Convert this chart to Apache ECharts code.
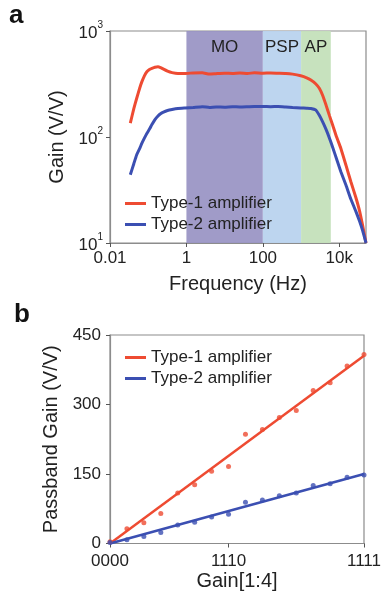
<!DOCTYPE html>
<html><head><meta charset="utf-8">
<script src="https://cdn.jsdelivr.net/npm/echarts@6/dist/echarts.min.js"></script>
<style>html,body{margin:0;padding:0;background:#fff}#c{width:387px;height:602px}</style>
</head><body><div id="c"></div><script>
// ---------- Panel a data ----------
const freqHz = [0.034,0.042,0.05,0.06,0.068,0.08,0.092,0.11,0.125,0.15,0.18,0.21,0.25,0.32,0.42,0.6,0.93,1.5,2.6,4,6,10,16,25,40,60,100,160,250,400,600,980,1400,1800,2400,3000,3700,4500,5500,6700,8500,11000,15000,20000,27000,34000,41000,50000];
const type1Gain = [135,185,232,290,331,380,413,435,444,455,460,452,437,418,405,398,398,402,404,392,396,400,398,402,398,403,400,402,400,398,392,378,362,345,318,288,245,200,160,130,100,78,54,38,27,20,14.5,10];
const type2Gain = [44,56,68,78,87,98,108,120,131,146,158,166,172,178,182,186,188,190,193,190,192,191,193,192,193,194,194,193,194,192,190,188,187,186,180,160,138,118,98,80,62,47,35,26,20,16,13,10];
const bandNames = ['MO','PSP','AP'];
const bandFrom = [1,100,1000];
const bandTo = [100,1000,6000];
const xTicksA = [0.01,1,100,10000];
const xTickLabelsA = ['0.01','1','100','10k'];
const yTicksA = [10,100,1000];

// ---------- Panel b data ----------
const gainCodes = ['0000','1000','0100','1100','0010','1010','0110','1110','0001','1001','0101','1101','0011','1011','0111','1111'];
const shownCodes = ['0000','1110','1111'];
const type1Passband = [4,32,45,65,109,127,156,166,236,246,272,287,330,347,383,408];
const type2Passband = [2,8,15,24,40,46,57,63,89,94,103,109,125,129,143,148];
const type1FitEnds = [0,405];
const type2FitEnds = [0,150];

// ---------- styles ----------
const FONT = '"Liberation Sans", Arial, sans-serif';
const RED = '#ee4b32';
const BLUE = '#3b4fb2';
const TXT = '#222';
const AXIS = '#8c8c8c';
const bandColors = ['rgba(150,144,194,0.9)','rgba(185,211,238,0.95)','rgba(196,224,186,0.95)'];

const chart = echarts.init(document.getElementById('c'));

const markAreaData = bandNames.map((n,i)=>[
  {name:n, xAxis:bandFrom[i], itemStyle:{color:bandColors[i]}},
  {xAxis:bandTo[i]}
]);

const lastCode = gainCodes[gainCodes.length-1];

const option = {
  animation:false,
  backgroundColor:'#fff',
  textStyle:{fontFamily:FONT},
  grid:[
    {left:110, top:31, width:256, height:212, show:true, borderColor:AXIS, borderWidth:1.2, backgroundColor:'transparent'},
    {left:110, top:335, width:254, height:208.5, show:true, borderColor:AXIS, borderWidth:1.2, backgroundColor:'transparent'}
  ],
  xAxis:[
    {type:'log', gridIndex:0, logBase:10, min:0.01, max:50000,
     axisLine:{lineStyle:{color:AXIS,width:1.2}},
     axisTick:{show:true, customValues:xTicksA, length:4, lineStyle:{color:'#555'}},
     minorTick:{show:false}, splitLine:{show:false},
     axisLabel:{customValues:xTicksA, fontSize:17, color:TXT, margin:7, fontFamily:FONT,
       formatter:v=>{const i=xTicksA.findIndex(t=>Math.abs(Math.log10(t)-Math.log10(v))<1e-6);return i>=0?xTickLabelsA[i]:'';}},
     name:'Frequency (Hz)', nameLocation:'middle', nameGap:31,
     nameTextStyle:{fontSize:20, color:TXT, fontFamily:FONT}},
    {type:'category', gridIndex:1, data:gainCodes, boundaryGap:false,
     axisLine:{lineStyle:{color:AXIS,width:1.2}},
     axisTick:{show:true, length:4, interval:(i,v)=>shownCodes.includes(v), lineStyle:{color:'#555'}},
     axisLabel:{fontSize:17, color:TXT, margin:9, interval:(i,v)=>shownCodes.includes(v), fontFamily:FONT},
     splitLine:{show:false},
     name:'Gain[1:4]', nameLocation:'middle', nameGap:28,
     nameTextStyle:{fontSize:20, color:TXT, fontFamily:FONT}}
  ],
  yAxis:[
    {type:'log', gridIndex:0, logBase:10, min:10, max:1000,
     axisLine:{show:true, lineStyle:{color:AXIS,width:1.2}},
     axisTick:{show:true, customValues:yTicksA, length:4, lineStyle:{color:'#555'}},
     minorTick:{show:false}, splitLine:{show:false},
     axisLabel:{customValues:yTicksA, margin:7, color:TXT,
       formatter:v=>'{b|10}{s|'+Math.round(Math.log10(v))+'}',
       rich:{b:{fontSize:17, color:TXT, fontFamily:FONT, lineHeight:22, verticalAlign:'bottom'},
             s:{fontSize:10, color:TXT, fontFamily:FONT, lineHeight:22, verticalAlign:'top'}}},
     name:'Gain (V/V)', nameLocation:'middle', nameGap:37,
     nameTextStyle:{fontSize:20, color:TXT, fontFamily:FONT}},
    {type:'value', gridIndex:1, min:0, max:450, interval:150,
     axisLine:{show:true, lineStyle:{color:AXIS,width:1.2}},
     axisTick:{show:true, length:4, lineStyle:{color:'#555'}},
     splitLine:{show:false},
     axisLabel:{fontSize:17, color:TXT, margin:9, fontFamily:FONT},
     name:'Passband Gain (V/V)', nameLocation:'middle', nameGap:40,
     nameTextStyle:{fontSize:20, color:TXT, fontFamily:FONT}}
  ],
  legend:[
    {data:['Type-1 amplifier','Type-2 amplifier'], orient:'vertical', left:120, top:189,
     icon:'rect', itemWidth:21, itemHeight:3, itemGap:2, selectedMode:false,
     textStyle:{fontSize:17, color:TXT, fontFamily:FONT, lineHeight:19}},
    {data:['Type-1 amplifier','Type-2 amplifier'], orient:'vertical', left:120, top:343,
     icon:'rect', itemWidth:21, itemHeight:3, itemGap:2, selectedMode:false,
     textStyle:{fontSize:17, color:TXT, fontFamily:FONT, lineHeight:19}}
  ],
  graphic:[
    {type:'text', left:9, top:3, style:{text:'a', font:'bold 26px '+FONT, fill:'#111'}},
    {type:'text', left:14, top:302, style:{text:'b', font:'bold 26px '+FONT, fill:'#111'}}
  ],
  series:[
    {name:'Type-1 amplifier', type:'line', xAxisIndex:0, yAxisIndex:0,
     data:freqHz.map((f,i)=>[f,type1Gain[i]]), showSymbol:false, smooth:0.15,
     lineStyle:{color:RED,width:3}, itemStyle:{color:RED}, z:3,
     markArea:{silent:true, data:markAreaData,
       label:{show:true, position:'insideTop', distance:8, fontSize:17, color:TXT, fontFamily:FONT}}},
    {name:'Type-2 amplifier', type:'line', xAxisIndex:0, yAxisIndex:0,
     data:freqHz.map((f,i)=>[f,type2Gain[i]]), showSymbol:false, smooth:0.15,
     lineStyle:{color:BLUE,width:3}, itemStyle:{color:BLUE}, z:3},
    {name:'Type-1 amplifier', type:'line', xAxisIndex:1, yAxisIndex:1,
     data:[[gainCodes[0],type1FitEnds[0]],[lastCode,type1FitEnds[1]]], showSymbol:false,
     lineStyle:{color:RED,width:2.5}, itemStyle:{color:RED}, z:3},
    {name:'Type-2 amplifier', type:'line', xAxisIndex:1, yAxisIndex:1,
     data:[[gainCodes[0],type2FitEnds[0]],[lastCode,type2FitEnds[1]]], showSymbol:false,
     lineStyle:{color:BLUE,width:2.5}, itemStyle:{color:BLUE}, z:3},
    {name:'t1pts', type:'scatter', xAxisIndex:1, yAxisIndex:1,
     data:gainCodes.map((c,i)=>[c,type1Passband[i]]), symbolSize:5, itemStyle:{color:RED}, z:4},
    {name:'t2pts', type:'scatter', xAxisIndex:1, yAxisIndex:1,
     data:gainCodes.map((c,i)=>[c,type2Passband[i]]), symbolSize:5, itemStyle:{color:BLUE}, z:4}
  ]
};
chart.setOption(option);
</script></body></html>
